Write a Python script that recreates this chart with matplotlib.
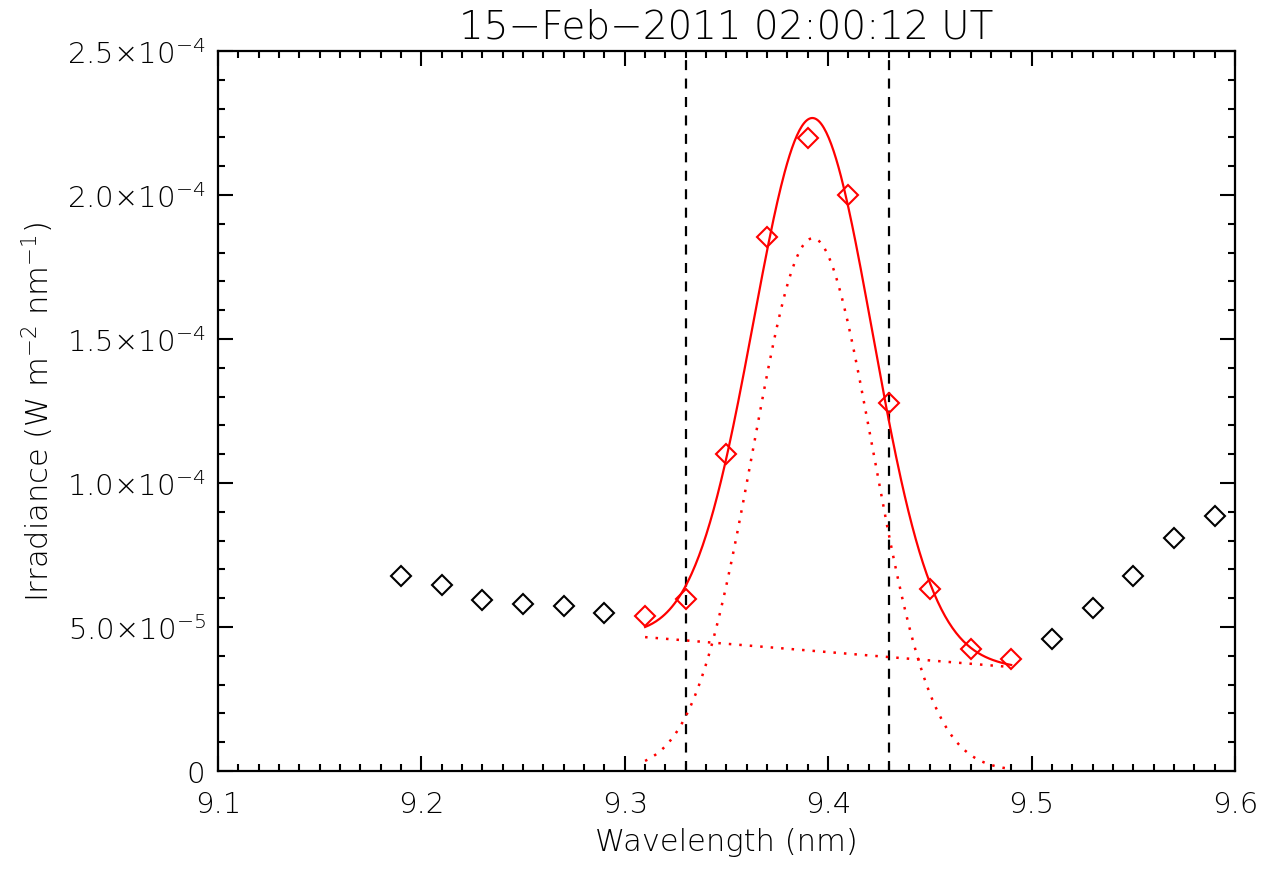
import numpy as np
import matplotlib
matplotlib.use("Agg")
import matplotlib.pyplot as plt
from matplotlib.ticker import MultipleLocator, FixedLocator, FormatStrFormatter

plt.rcParams["font.family"] = ["DejaVu Sans"]
plt.rcParams["font.weight"] = "light"
plt.rcParams["axes.titleweight"] = "light"
plt.rcParams["axes.labelweight"] = "light"
plt.rcParams["mathtext.fontset"] = "dejavusans"

# measured spectrum (nm, W m-2 nm-1)
wave = [9.19, 9.21, 9.23, 9.25, 9.27, 9.29, 9.31, 9.33, 9.35, 9.37, 9.39,
        9.41, 9.43, 9.45, 9.47, 9.49, 9.51, 9.53, 9.55, 9.57, 9.59]
irr = [6.77e-5, 6.46e-5, 5.94e-5, 5.80e-5, 5.73e-5, 5.49e-5, 5.38e-5,
       5.97e-5, 1.10e-4, 1.854e-4, 2.198e-4, 2.00e-4, 1.278e-4, 6.32e-5,
       4.24e-5, 3.89e-5, 4.58e-5, 5.66e-5, 6.77e-5, 8.09e-5, 8.85e-5]

# fit window and integration limits
fit_lo, fit_hi = 9.31, 9.49
lim_lo, lim_hi = 9.33, 9.43

# gaussian + linear background fit parameters
g_amp = 1.85e-4
g_cen = 9.3925
g_sig = 0.0293
bg_lo = 4.65e-5   # background at fit_lo
bg_hi = 3.61e-5   # background at fit_hi

title = "15\u2212Feb\u22122011 02:00:12 UT"
xticks = [9.1, 9.2, 9.3, 9.4, 9.5, 9.6]
yticks = [0, 5e-5, 1e-4, 1.5e-4, 2e-4, 2.5e-4]
ylabels = ["0", r"$5.0{\times}10^{-5}$", r"$1.0{\times}10^{-4}$", r"$1.5{\times}10^{-4}$",
           r"$2.0{\times}10^{-4}$", r"$2.5{\times}10^{-4}$"]

wave = np.array(wave)
irr = np.array(irr)
infit = (wave >= fit_lo - 1e-6) & (wave <= fit_hi + 1e-6)

xf = np.linspace(fit_lo, fit_hi, 300)
bg = bg_lo + (bg_hi - bg_lo) * (xf - fit_lo) / (fit_hi - fit_lo)
gauss = g_amp * np.exp(-(xf - g_cen) ** 2 / (2 * g_sig ** 2))

fig = plt.figure(figsize=(12.73, 8.70), dpi=100)
ax = fig.add_axes([0.1712, 0.1126, 0.9701 - 0.1712, 0.9402 - 0.1126])

ax.axvline(lim_lo, color="black", lw=1.6, ls=(0, (4.5, 3.8)))
ax.axvline(lim_hi, color="black", lw=1.6, ls=(0, (4.5, 3.8)))

ax.plot(xf, gauss + bg, color="red", lw=1.6)
ax.plot(xf, gauss, color="red", lw=1.8, ls=(0, (1, 3.2)), dash_capstyle="butt")
ax.plot(xf, bg, color="red", lw=1.8, ls=(0, (1, 3.2)), dash_capstyle="butt")

ax.plot(wave[~infit], irr[~infit], ls="none", marker="D", ms=10, mfc="none",
        mec="black", mew=1.5)
ax.plot(wave[infit], irr[infit], ls="none", marker="D", ms=10, mfc="none",
        mec="red", mew=1.5)

ax.set_xlim(9.1, 9.6)
ax.set_ylim(0, 2.5e-4)
ax.xaxis.set_major_locator(FixedLocator(xticks))
ax.xaxis.set_minor_locator(MultipleLocator(0.01))
ax.xaxis.set_major_formatter(FormatStrFormatter("%.1f"))
ax.yaxis.set_major_locator(FixedLocator(yticks))
ax.yaxis.set_minor_locator(MultipleLocator(1e-5))
ax.set_yticklabels(ylabels)

ax.tick_params(which="both", direction="in", top=True, right=True, width=1.5,
               labelsize=21, colors="black")
ax.tick_params(which="major", length=11)
ax.tick_params(which="minor", length=5)
ax.tick_params(axis="x", pad=14)
ax.tick_params(axis="y", pad=9)
for s in ax.spines.values():
    s.set_linewidth(1.6)

ax.set_xlabel("Wavelength (nm)", fontsize=22, labelpad=6)
ax.set_ylabel(r"Irradiance (W m$^{-2}$ nm$^{-1}$)", fontsize=22, labelpad=8)
ax.set_title(title, fontsize=28, pad=10)

fig.savefig("out.png", dpi=100)
